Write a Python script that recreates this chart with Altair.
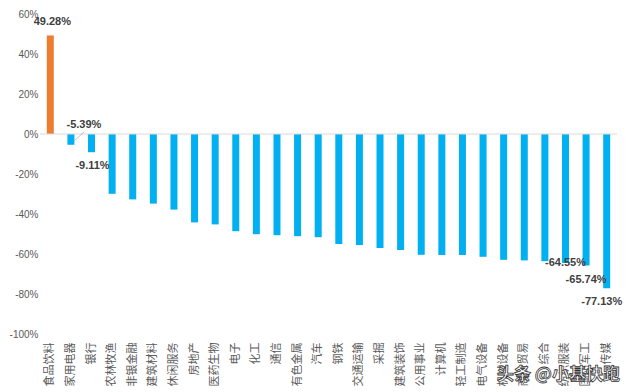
import altair as alt
import pandas as pd

categories = ["食品饮料", "家用电器", "银行", "农林牧渔", "非银金融", "建筑材料", "休闲服务",
              "房地产", "医药生物", "电子", "化工", "通信", "有色金属", "汽车", "钢铁",
              "交通运输", "采掘", "建筑装饰", "公用事业", "计算机", "轻工制造", "电气设备",
              "机械设备", "商业贸易", "综合", "纺织服装", "国防军工", "传媒"]
values = [49.28, -5.39, -9.11, -29.9, -32.7, -34.8, -37.8,
          -44.2, -45.2, -48.6, -50.1, -50.6, -51.1, -51.6, -55.0,
          -55.5, -57.0, -58.0, -60.4, -60.5, -60.5, -61.4,
          -62.9, -63.2, -63.6, -64.55, -65.74, -77.13]
label_cats = ["食品饮料", "家用电器", "银行", "纺织服装", "国防军工", "传媒"]
y_ticks = [-100, -80, -60, -40, -20, 0, 20, 40, 60]

df = pd.DataFrame({"cat": categories, "val": values})
df["label"] = [f"{v:.2f}%" for v in values]
df["pos"] = ["up" if v > 0 else "down" for v in values]

FONT = "Noto Sans CJK SC"
yscale = alt.Scale(domain=[-100, 60], nice=False, zero=False)
yaxis = alt.Axis(values=y_ticks, labelExpr="datum.value + '%'", grid=False,
                 ticks=False, domain=False, labelPadding=2, labelColor="#595959",
                 labelFontSize=10, labelFont="Liberation Sans", labelOverlap=False)
xaxis = alt.Axis(labelAngle=270, labelAlign="right", labelBaseline="middle",
                 labelPadding=8, ticks=False, domain=False, labelColor="#595959",
                 labelFontSize=11, labelFont=FONT, labelOverlap=False)

x = alt.X("cat:N", sort=categories, title=None,
          scale=alt.Scale(paddingInner=0.66, paddingOuter=0.33), axis=xaxis)
y = alt.Y("val:Q", title=None, scale=yscale, axis=yaxis)

base = alt.Chart(df)

bars = base.mark_bar().encode(
    x=x, y=y,
    color=alt.Color("pos:N", scale=alt.Scale(domain=["up", "down"], range=["#ED7D31", "#00B0F0"]),
                    legend=None),
)

zero = base.transform_filter(alt.datum.cat == "食品饮料").transform_calculate(
    val="0").mark_rule(color="#D9D9D9", strokeWidth=1).encode(
    y=alt.Y("val:Q", title=None, scale=yscale, axis=yaxis)
)

label_style = dict(fontSize=11, fontWeight="bold", color="#404040", font="Liberation Sans",
                   baseline="middle", align="center")
offsets = {"食品饮料": (2, -13), "家用电器": (13, -20), "银行": (1, 14),
           "纺织服装": (0, 0), "国防军工": (0, 15), "传媒": (-5, 14)}
labels = []
for c in label_cats:
    dx, dy = offsets[c]
    labels.append(
        base.transform_filter(alt.datum.cat == c).mark_text(dx=dx, dy=dy, **label_style).encode(
            x=x, y=y, text="label:N")
    )

leader = alt.Chart(pd.DataFrame({"c": ["家用电器"]})).mark_rule(color="#BFBFBF", strokeWidth=1).encode(
    x=alt.value(34), x2=alt.value(44), y=alt.value(127), y2=alt.value(118)
)

watermark = alt.Chart(pd.DataFrame({"t": ["头条 @小基快跑"]})).mark_text(
    fontSize=17, font=FONT, fill="white", stroke="#333333", strokeWidth=0.8,
    align="right", baseline="middle", fontWeight="bold"
).encode(x=alt.value(580), y=alt.value(361), text="t:N")

chart = alt.layer(bars, zero, *labels, leader, watermark).properties(
    width=577, height=320,
    padding={"left": 32, "top": 6, "right": 6, "bottom": 57},
    autosize=alt.AutoSizeParams(type="none"),
).configure(background="white").configure_view(stroke=None).configure_axis(labelOverlap=False)

chart.save("out.html", embed_options={"renderer": "svg", "actions": False})
